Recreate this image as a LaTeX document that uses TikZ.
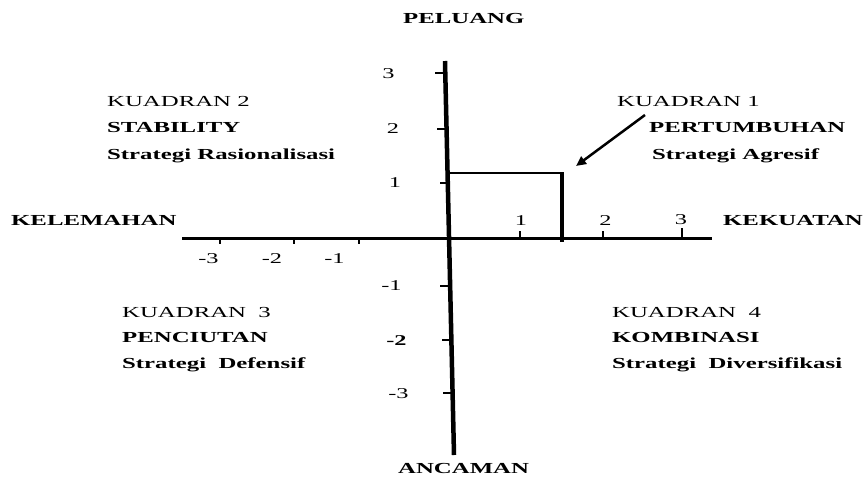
\documentclass[tikz,border=0pt]{standalone}
\usepackage{fontspec}
\setmainfont[FakeStretch=1.62]{Liberation Serif}
\usetikzlibrary{arrows.meta}
\tikzset{
  lbl/.style={inner sep=0pt, anchor=base west, font=\fontsize{15.3}{18}\selectfont},
  blbl/.style={lbl, font=\fontsize{15.3}{18}\selectfont\bfseries},
  num/.style={inner sep=0pt, anchor=base, font=\fontsize{15}{18}\selectfont},
  bnum/.style={num, font=\fontsize{15}{18}\selectfont\bfseries},
  tick/.style={line width=2.5pt},
}
\begin{document}
\begin{tikzpicture}[x=1pt,y=-1pt]
\useasboundingbox (0,0) rectangle (863,480);
% axes
\coordinate (vtop) at (445,61);
\coordinate (vbot) at (454,455);
\coordinate (hl) at (182,238);
\coordinate (hr) at (712,238);
\draw[line width=4.5pt] (vtop) -- (vbot);
\draw[line width=3pt] (hl) -- (hr);
% vertical ticks
\coordinate (ty3a) at (435,73); \coordinate (ty3b) at (446,73);
\coordinate (ty2a) at (437,129); \coordinate (ty2b) at (447,129);
\coordinate (ty1a) at (440,183); \coordinate (ty1b) at (448,183);
\coordinate (tym1a) at (440,286); \coordinate (tym1b) at (450,286);
\coordinate (tym2a) at (442,340); \coordinate (tym2b) at (451,340);
\coordinate (tym3a) at (443,393); \coordinate (tym3b) at (452,393);
\draw[tick] (ty3a) -- (ty3b);
\draw[tick] (ty2a) -- (ty2b);
\draw[tick] (ty1a) -- (ty1b);
\draw[tick] (tym1a) -- (tym1b);
\draw[tick] (tym2a) -- (tym2b);
\draw[tick] (tym3a) -- (tym3b);
% horizontal ticks
\coordinate (tx3a) at (220,238); \coordinate (tx3b) at (220,244);
\coordinate (tx2a) at (294,238); \coordinate (tx2b) at (294,244);
\coordinate (tx1a) at (359,238); \coordinate (tx1b) at (359,244);
\coordinate (txp1a) at (520,231); \coordinate (txp1b) at (520,238);
\coordinate (txp2a) at (603,231); \coordinate (txp2b) at (603,238);
\coordinate (txp3a) at (682,228); \coordinate (txp3b) at (682,238);
\draw[tick] (tx3a) -- (tx3b);
\draw[tick] (tx2a) -- (tx2b);
\draw[tick] (tx1a) -- (tx1b);
\draw[tick] (txp1a) -- (txp1b);
\draw[tick] (txp2a) -- (txp2b);
\draw[tick] (txp3a) -- (txp3b);
% rectangle
\coordinate (r1) at (447.5,173);
\coordinate (r2) at (562,173);
\coordinate (r3) at (562,242);
\draw[line width=2pt] (r1) -- (r2);
\draw[line width=3.5pt] (r2 |- 0,172) -- (r3);
% arrow
\coordinate (as) at (645,115);
\coordinate (ae) at (576,166);
\draw[line width=2.5pt, -{Triangle[length=10pt,width=9pt]}] (as) -- (ae);
% vertical numbers
\node[num] (n3) at (388.5,78) {3};
\node[num] (n2) at (393,133) {2};
\node[num] (n1) at (395,187) {1};
\node[num] (nm1) at (391.5,290) {-1};
\node[bnum] (nm2) at (396.5,345) {-2};
\node[num] (nm3) at (398.5,398) {-3};
% horizontal numbers
\node[num] (hm3) at (208.5,263) {-3};
\node[num] (hm2) at (272,263) {-2};
\node[num] (hm1) at (334.5,263) {-1};
\node[num] (hp1) at (521,225) {1};
\node[num] (hp2) at (605.5,225) {2};
\node[num] (hp3) at (681,224) {3};
% axis titles
\node[blbl] (peluang) at (403,23) {PELUANG};
\node[blbl] (ancaman) at (398,473) {ANCAMAN};
\node[blbl] (kelemahan) at (11,225) {KELEMAHAN};
\node[blbl] (kekuatan) at (723,225) {KEKUATAN};
% quadrant 2
\node[lbl] (k2) at (107,106) {KUADRAN 2};
\node[blbl] (k2b) at (107,132) {STABILITY};
\node[blbl] (k2c) at (107,159) {Strategi Rasionalisasi};
% quadrant 1
\node[lbl] (k1) at (617,106) {KUADRAN 1};
\node[blbl] (k1b) at (649,132) {PERTUMBUHAN};
\node[blbl] (k1c) at (652,159) {Strategi Agresif};
% quadrant 3
\node[lbl] (k3) at (122,317) {KUADRAN\ \ 3};
\node[blbl] (k3b) at (122,342) {PENCIUTAN};
\node[blbl] (k3c) at (122,368) {Strategi\ \ Defensif};
% quadrant 4
\node[lbl] (k4) at (612,317) {KUADRAN\ \ 4};
\node[blbl] (k4b) at (612,342) {KOMBINASI};
\node[blbl] (k4c) at (612,368) {Strategi\ \ Diversifikasi};
\end{tikzpicture}
\end{document}
